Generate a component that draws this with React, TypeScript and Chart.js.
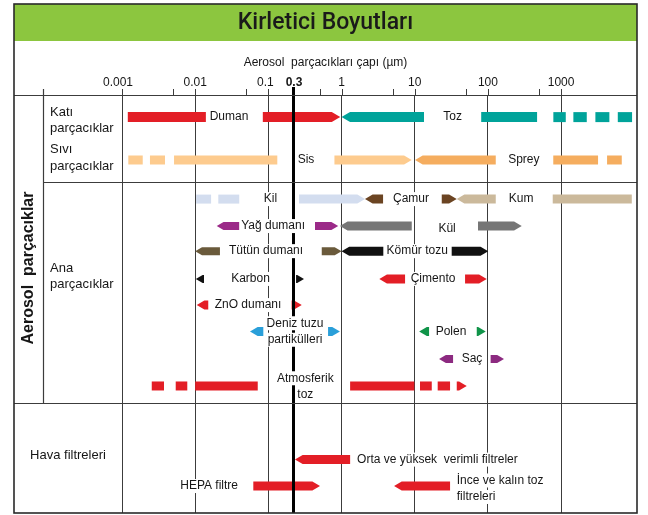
import React, { useEffect, useRef } from "react";
import { Chart, registerables } from "chart.js";

Chart.register(...registerables);

// ---------------- data ----------------
const TITLE = "Kirletici Boyutları";
const AXIS_TITLE = "Aerosol  parçacıkları çapı (µm)";
const GROUP_TITLE = "Aerosol  parçacıklar";

const GRID_VALUES = [0.001, 0.01, 0.1, 1, 10, 100, 1000];
const MINOR_TICK_VALUES = [0.005, 0.05, 0.5, 5, 50, 500];
// the marked "0.3" line sits where the reference draws it on the log axis
const MARKED_AT = 0.217;
const TICK_VALUES = [0.001, 0.01, 0.1, MARKED_AT, 1, 10, 100, 1000];
const TICK_LABELS = ["0.001", "0.01", "0.1", "0.3", "1", "10", "100", "1000"];
const X_MIN = 0.001;
const X_MAX = 10900;

const ROW_LABELS = [["Katı", "parçacıklar"], ["Sıvı", "parçacıklar"], ["Ana", "parçacıklar"], ["Hava filtreleri"]];

// size ranges [from, to] in µm
const DUMAN = [[0.0012, 0.014], [0.084, 0.96]];
const TOZ = [[1.0, 13.4], [81, 470], [784, 1159], [1472, 2244], [2943, 4570], [5955, 9333]];
const SIVI = [[0.00122, 0.00192], [0.00241, 0.00387], [0.00514, 0.1325], [0.8, 9.1]];
const SPREY = [[10.1, 128], [782, 3200], [4250, 6750]];
const KIL = [[0.0103, 0.0165], [0.0207, 0.040], [0.262, 2.09]];
const CAMUR = [[2.09, 3.69], [23.4, 37.5]];
const KUM = [[37.5, 128], [769, 9250]];
const YAG = [[0.0197, 0.041], [0.434, 0.9]];
const KUL = [[0.95, 9.1], [73.3, 290]];
const TUTUN = [[0.01, 0.0218], [0.536, 1.0]];
const KOMUR = [[1.0, 3.72], [32, 101]];
const KARBON = [[0.0102, 0.0132], [0.239, 0.307]];
const CIMENTO = [[3.28, 7.38], [48.7, 96.4]];
const ZNO = [[0.0105, 0.0151], [0.208, 0.286]];
const DENIZ = [[0.0561, 0.0853], [0.654, 0.95]];
const POLEN = [[11.5, 15.7], [70.4, 93.5]];
const SAC = [[21.5, 33.4], [109, 166]];
const ATMOS = [[0.00255, 0.00375], [0.00542, 0.0078], [0.01, 0.0716], [1.31, 9.88], [11.8, 17.1], [20.6, 30.4], [37.5, 51.4]];
const ORTA = [[0.231, 1.31]];
const HEPA = [[0.0623, 0.508]];
const INCE = [[5.22, 30.4]];

// arrow ends of each range: L = open to the left, R = open to the right
const DUMAN_ENDS = ["", "R"];
const TOZ_ENDS = ["L", "", "", "", "", ""];
const SIVI_ENDS = ["", "", "", "R"];
const SPREY_ENDS = ["L", "", ""];
const KIL_ENDS = ["", "", "R"];
const CAMUR_ENDS = ["L", "R"];
const KUM_ENDS = ["L", ""];
const PAIR_ENDS = ["L", "R"];
const ATMOS_ENDS = ["", "", "", "", "", "", "R"];
const ORTA_ENDS = ["L"];
const HEPA_ENDS = ["R"];
const INCE_ENDS = ["L"];

// ---------------- layout / style ----------------
const W = 648;
const H = 515;
const PAD = { left: 122, right: 11, top: 95, bottom: 2 };
const Y_MAX = 15.5; // row units
const FRAME = { left: 14, right: 637, top: 4, bottom: 513 };
const HEADER_BOTTOM = 41;
const COL_LINE_X = 43;
const SECTION_LINES = [3.226, 11.42];
const ROW_LABEL_POS = [0.946, 2.336, 6.73, 13.35];
const GROUP_TITLE_POS = 6.415;

const RED = "#e31e26";
const ROW = { kati: 0.82, sivi: 2.41, kil: 3.86, yag: 4.86, tutun: 5.79, karbon: 6.82, zno: 7.79, deniz: 8.77, sac: 9.79, atmos: 10.79, orta: 13.52, hepa: 14.5 };

const SERIES = [
  { name: "Duman", data: DUMAN, ends: DUMAN_ENDS, row: ROW.kati, color: RED, h: 10 },
  { name: "Toz", data: TOZ, ends: TOZ_ENDS, row: ROW.kati, color: "#00a39a", h: 10 },
  { name: "Sis", data: SIVI, ends: SIVI_ENDS, row: ROW.sivi, color: "#fdcb8e", h: 9 },
  { name: "Sprey", data: SPREY, ends: SPREY_ENDS, row: ROW.sivi, color: "#f5ad5f", h: 9 },
  { name: "Kil", data: KIL, ends: KIL_ENDS, row: ROW.kil, color: "#d3ddef", h: 9 },
  { name: "Çamur", data: CAMUR, ends: CAMUR_ENDS, row: ROW.kil, color: "#6b4422", h: 9 },
  { name: "Kum", data: KUM, ends: KUM_ENDS, row: ROW.kil, color: "#cbb99b", h: 9 },
  { name: "Yağ dumanı", data: YAG, ends: PAIR_ENDS, row: ROW.yag, color: "#9b2a88", h: 8 },
  { name: "Kül", data: KUL, ends: PAIR_ENDS, row: ROW.yag, color: "#767676", h: 9 },
  { name: "Tütün dumanı", data: TUTUN, ends: PAIR_ENDS, row: ROW.tutun, color: "#6a5a3b", h: 8 },
  { name: "Kömür tozu", data: KOMUR, ends: PAIR_ENDS, row: ROW.tutun, color: "#111111", h: 9 },
  { name: "Karbon", data: KARBON, ends: PAIR_ENDS, row: ROW.karbon, color: "#111111", h: 8 },
  { name: "Çimento", data: CIMENTO, ends: PAIR_ENDS, row: ROW.karbon, color: RED, h: 9 },
  { name: "ZnO dumanı", data: ZNO, ends: PAIR_ENDS, row: ROW.zno, color: RED, h: 9 },
  { name: "Deniz tuzu", data: DENIZ, ends: PAIR_ENDS, row: ROW.deniz, color: "#2a9fd9", h: 9 },
  { name: "Polen", data: POLEN, ends: PAIR_ENDS, row: ROW.deniz, color: "#109449", h: 9 },
  { name: "Saç", data: SAC, ends: PAIR_ENDS, row: ROW.sac, color: "#8c2a80", h: 8 },
  { name: "Atmosferik toz", data: ATMOS, ends: ATMOS_ENDS, row: ROW.atmos, color: RED, h: 9 },
  { name: "Orta", data: ORTA, ends: ORTA_ENDS, row: ROW.orta, color: RED, h: 9 },
  { name: "HEPA", data: HEPA, ends: HEPA_ENDS, row: ROW.hepa, color: RED, h: 9 },
  { name: "İnce", data: INCE, ends: INCE_ENDS, row: ROW.hepa, color: RED, h: 9 },
];

const LABELS = [
  { lines: ["Duman"], x: 0.029, y: 0.82 },
  { lines: ["Toz"], x: 33, y: 0.82 },
  { lines: ["Sis"], x: 0.327, y: 2.41 },
  { lines: ["Sprey"], x: 310, y: 2.41 },
  { lines: ["Kil"], x: 0.107, y: 3.86 },
  { lines: ["Çamur"], x: 8.9, y: 3.86 },
  { lines: ["Kum"], x: 284, y: 3.86 },
  { lines: ["Yağ dumanı"], x: 0.116, y: 4.86 },
  { lines: ["Kül"], x: 27.7, y: 4.97 },
  { lines: ["Tütün dumanı"], x: 0.093, y: 5.79 },
  { lines: ["Kömür tozu"], x: 10.8, y: 5.79 },
  { lines: ["Karbon"], x: 0.057, y: 6.82 },
  { lines: ["Çimento"], x: 17.8, y: 6.82 },
  { lines: ["ZnO dumanı"], x: 0.0527, y: 7.79 },
  { lines: ["Deniz tuzu", "partikülleri"], x: 0.231, y: 8.77 },
  { lines: ["Polen"], x: 31.3, y: 8.77 },
  { lines: ["Saç"], x: 60.7, y: 9.79 },
  { lines: ["Atmosferik", "toz"], x: 0.32, y: 10.81 },
  { lines: ["Orta ve yüksek  verimli filtreler"], x: 1.63, y: 13.52, align: "left" },
  { lines: ["HEPA filtre"], x: 0.0155, y: 14.5 },
  { lines: ["İnce ve kalın toz", "filtreleri"], x: 37.5, y: 14.6, align: "left" },
];

const TICK_NUDGE = [-4, 0, -3, 1, 0, 0, 0, 0];

const SANS = '"Liberation Sans", Arial, Helvetica, sans-serif';
const LABEL_FONT = `12px ${SANS}`;
const ROW_FONT = `13px ${SANS}`;
const GROUP_FONT = `bold 16px ${SANS}`;
const TITLE_FONT = `500 23px Roboto, ${SANS}`;
const TEXT_COLOR = "#161616";
const LINE_COLOR = "#3c3c3c";
const HEADER_COLOR = "#8cc63f";

function drawShape(ctx, left, right, cy, h, tipL, tipR, color) {
  const w = right - left;
  const tip = h * 0.85;
  let tl = tipL ? Math.min(tip, w) : 0;
  let tr = tipR ? Math.min(tip, w) : 0;
  if (tl + tr > w) {
    tl = (tl / (tl + tr)) * w;
    tr = w - tl;
  }
  const top = cy - h / 2;
  const bot = cy + h / 2;
  ctx.beginPath();
  if (tipL) {
    ctx.moveTo(left, cy);
    ctx.lineTo(left + tl, top);
  } else {
    ctx.moveTo(left, top);
  }
  if (tipR) {
    ctx.lineTo(right - tr, top);
    ctx.lineTo(right, cy);
    ctx.lineTo(right - tr, bot);
  } else {
    ctx.lineTo(right, top);
    ctx.lineTo(right, bot);
  }
  if (tipL) ctx.lineTo(left + tl, bot);
  else ctx.lineTo(left, bot);
  ctx.closePath();
  ctx.fillStyle = color;
  ctx.fill();
}

function drawTextBlock(ctx, lines, px, py, align, font, lineH) {
  ctx.font = font;
  ctx.textBaseline = "middle";
  ctx.textAlign = align;
  const n = lines.length;
  lines.forEach((t, i) => {
    const y = py + (i - (n - 1) / 2) * lineH;
    const w = ctx.measureText(t).width;
    const x0 = align === "left" ? px : px - w / 2;
    ctx.fillStyle = "#ffffff";
    ctx.fillRect(x0 - 2, y - 7, w + 4, 14);
    ctx.fillStyle = TEXT_COLOR;
    ctx.fillText(t, px, y);
  });
}

const tablePlugin = {
  id: "sizeTable",
  beforeDraw(chart) {
    const { ctx } = chart;
    ctx.save();
    ctx.fillStyle = "#ffffff";
    ctx.fillRect(0, 0, chart.width, chart.height);
    ctx.restore();
  },
  beforeDatasetDraw(chart, args) {
    const { ctx } = chart;
    const ds = chart.data.datasets[args.index];
    ctx.save();
    args.meta.data.forEach((el, i) => {
      const left = Math.min(el.x, el.base);
      const right = Math.max(el.x, el.base);
      const end = ds.ends[i] || "";
      drawShape(ctx, left, right, el.y, el.height, end.includes("L"), end.includes("R"), ds.backgroundColor);
    });
    ctx.restore();
    return false;
  },
  afterDatasetsDraw(chart) {
    const { ctx, chartArea } = chart;
    const xs = chart.scales.x;
    const ys = chart.scales.y;
    ctx.save();

    // marked 0.3 µm line
    const mx = Math.round(xs.getPixelForValue(MARKED_AT)) + 0.5;
    ctx.strokeStyle = "#000";
    ctx.lineWidth = 3;
    ctx.beginPath();
    ctx.moveTo(mx, chartArea.top - 8);
    ctx.lineTo(mx, chartArea.bottom);
    ctx.stroke();

    // labels
    LABELS.forEach((l) => {
      drawTextBlock(ctx, l.lines, xs.getPixelForValue(l.x), ys.getPixelForValue(l.y), l.align || "center", LABEL_FONT, 16.5);
    });

    // header
    ctx.fillStyle = HEADER_COLOR;
    ctx.fillRect(FRAME.left, FRAME.top, FRAME.right - FRAME.left, HEADER_BOTTOM - FRAME.top);
    ctx.fillStyle = "#1a1a1a";
    ctx.font = TITLE_FONT;
    ctx.textAlign = "center";
    ctx.textBaseline = "middle";
    ctx.fillText(TITLE, (FRAME.left + FRAME.right) / 2, 23);

    ctx.font = LABEL_FONT;
    ctx.fillStyle = TEXT_COLOR;
    ctx.fillText(AXIS_TITLE, (FRAME.left + FRAME.right) / 2, 63);

    // tick marks
    ctx.strokeStyle = LINE_COLOR;
    ctx.lineWidth = 1;
    [...GRID_VALUES, ...MINOR_TICK_VALUES].forEach((v) => {
      const x = Math.round(xs.getPixelForValue(v)) + 0.5;
      ctx.beginPath();
      ctx.moveTo(x, chartArea.top - 6);
      ctx.lineTo(x, chartArea.top);
      ctx.stroke();
    });
    // tick labels
    TICK_VALUES.forEach((v, i) => {
      ctx.font = v === MARKED_AT ? `bold 12px ${SANS}` : LABEL_FONT;
      ctx.fillStyle = TEXT_COLOR;
      ctx.fillText(TICK_LABELS[i], xs.getPixelForValue(v) + TICK_NUDGE[i], 83);
    });

    // table lines
    ctx.strokeStyle = LINE_COLOR;
    ctx.lineWidth = 1.2;
    ctx.beginPath();
    ctx.moveTo(FRAME.left, chartArea.top + 0.5);
    ctx.lineTo(FRAME.right, chartArea.top + 0.5);
    const yA = Math.round(ys.getPixelForValue(SECTION_LINES[0])) + 0.5;
    ctx.moveTo(COL_LINE_X, yA);
    ctx.lineTo(FRAME.right, yA);
    const yB = Math.round(ys.getPixelForValue(SECTION_LINES[1])) + 0.5;
    ctx.moveTo(FRAME.left, yB);
    ctx.lineTo(FRAME.right, yB);
    ctx.moveTo(COL_LINE_X + 0.5, chartArea.top - 6);
    ctx.lineTo(COL_LINE_X + 0.5, yB);
    ctx.stroke();

    // frame
    ctx.lineWidth = 1.6;
    ctx.strokeStyle = "#2a2a2a";
    ctx.strokeRect(FRAME.left, FRAME.top, FRAME.right - FRAME.left, FRAME.bottom - FRAME.top);

    // row labels
    ctx.textAlign = "left";
    ROW_LABELS.forEach((lines, i) => {
      ctx.font = ROW_FONT;
      ctx.fillStyle = TEXT_COLOR;
      const cy = ys.getPixelForValue(ROW_LABEL_POS[i]);
      if (lines.length === 1) {
        ctx.textAlign = "center";
        ctx.fillText(lines[0], (FRAME.left + chartArea.left) / 2, cy);
        ctx.textAlign = "left";
      } else {
        lines.forEach((t, k) => ctx.fillText(t, COL_LINE_X + 7, cy + (k - 0.5) * 16.5));
      }
    });

    // rotated group title
    ctx.save();
    ctx.translate((FRAME.left + COL_LINE_X) / 2 + 0.5, ys.getPixelForValue(GROUP_TITLE_POS));
    ctx.rotate(-Math.PI / 2);
    ctx.font = GROUP_FONT;
    ctx.textAlign = "center";
    ctx.textBaseline = "middle";
    ctx.fillStyle = TEXT_COLOR;
    ctx.fillText(GROUP_TITLE, 0, 0);
    ctx.restore();

    ctx.restore();
  },
};

export default function App() {
  const ref = useRef<HTMLCanvasElement>(null);
  useEffect(() => {
    const canvas = ref.current;
    if (!canvas) return;
    const chart = new Chart(canvas, {
      type: "bar",
      data: {
        datasets: SERIES.map((s) => ({
          label: s.name,
          data: s.data.map((r) => ({ x: r, y: s.row })),
          ends: s.ends,
          backgroundColor: s.color,
          barThickness: s.h,
          grouped: false,
        })),
      } as any,
      options: {
        indexAxis: "y",
        animation: false,
        responsive: false,
        events: [],
        layout: { padding: PAD },
        plugins: { legend: { display: false }, tooltip: { enabled: false } },
        scales: {
          x: {
            type: "logarithmic",
            position: "top",
            min: X_MIN,
            max: X_MAX,
            offset: false,
            afterFit: (s: any) => {
              s.height = 0;
            },
            afterBuildTicks: (s: any) => {
              s.ticks = GRID_VALUES.map((v) => ({ value: v }));
            },
            ticks: { display: false },
            grid: { color: LINE_COLOR, lineWidth: 1, drawTicks: false, offset: false },
            border: { display: false },
          },
          y: { type: "linear", min: 0, max: Y_MAX, reverse: true, offset: false, display: false },
        },
      } as any,
      plugins: [tablePlugin],
    });
    return () => chart.destroy();
  }, []);
  return (
    <div style={{ position: "fixed", left: 0, top: 0, width: W, height: H, background: "#fff" }}>
      <canvas ref={ref} width={W} height={H} style={{ display: "block" }} />
    </div>
  );
}
